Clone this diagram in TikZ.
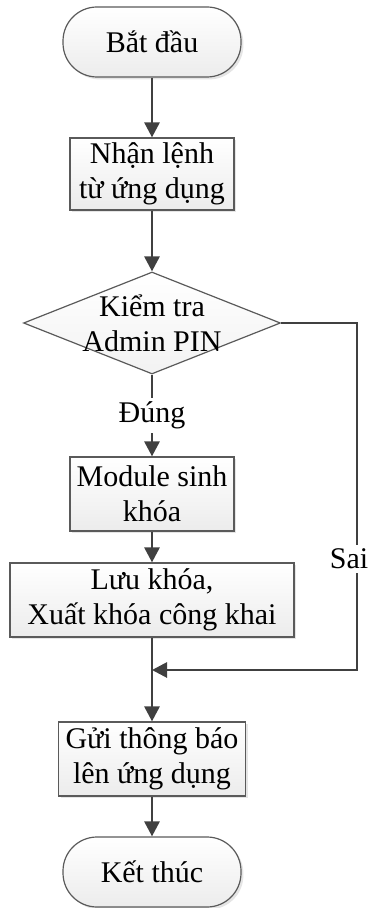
\documentclass[tikz,border=0pt]{standalone}
\usepackage{fontspec}
\setmainfont{Liberation Serif}
\usetikzlibrary{shapes.geometric,arrows.meta,shadows}
\definecolor{linegray}{HTML}{404040}
\definecolor{boxline}{HTML}{5A5A5A}
\begin{document}
\begin{tikzpicture}[x=0.5pt, y=-0.5pt, >={Triangle[length=7.5pt,width=7.5pt]},
  every node/.style={font=\fontsize{15pt}{17.5pt}\selectfont, align=center},
  flow/.style={->, draw=linegray, line width=1.4pt},
  shade box/.style={draw=boxline, line width=0.6pt, top color=white, bottom color=gray!15,
    drop shadow={shadow xshift=1.2pt, shadow yshift=-1.2pt, fill=black!25, opacity=0.4}},
  term node/.style={shade box, rectangle, rounded corners=17pt, minimum width=89pt, minimum height=35pt, inner sep=0pt},
  main node/.style={shade box, rectangle, minimum height=37pt, inner sep=0pt},
  decision/.style={diamond, draw=boxline, line width=0.6pt, top color=white, bottom color=gray!10,
    minimum width=128.5pt, minimum height=51pt, inner sep=0pt}]
\useasboundingbox (0,0) rectangle (376,908);
\begin{scope}
\node[term node] (start) at (152,42) {Bắt đầu};
\node[main node, minimum width=82pt, minimum height=36pt] (recv) at (152,174) {Nhận lệnh\\từ ứng dụng};
\node[decision, label={[align=center]center:Kiểm tra\\Admin PIN}] (check) at (152,323) {};
\node[main node, minimum width=82pt] (keygen) at (152,494) {Module sinh\\khóa};
\node[main node, minimum width=142pt] (store) at (152,600) {Lưu khóa,\\Xuất khóa công khai};
\node[main node, minimum width=93.5pt] (notify) at (152,759) {Gửi thông báo\\lên ứng dụng};
\node[term node] (stop) at (152,872) {Kết thúc};
\coordinate (c1) at (357,323);
\coordinate (c2) at (357,670);
\coordinate (merge) at (152,670);
\end{scope}
\begin{scope}
\draw[flow] (start) -- (recv);
\draw[flow] (recv) -- (check);
\draw[flow] (check) -- node[fill=white, inner sep=2pt]{Đúng} (keygen);
\draw[flow] (keygen) -- (store);
\draw[flow] (store) -- (notify);
\draw[flow] (check.east) -- (c1) -- node[pos=0.68, fill=white, inner sep=2pt, xshift=-4pt]{Sai} (c2) -- (merge);
\draw[flow] (notify) -- (stop);
\end{scope}
\end{tikzpicture}
\end{document}
